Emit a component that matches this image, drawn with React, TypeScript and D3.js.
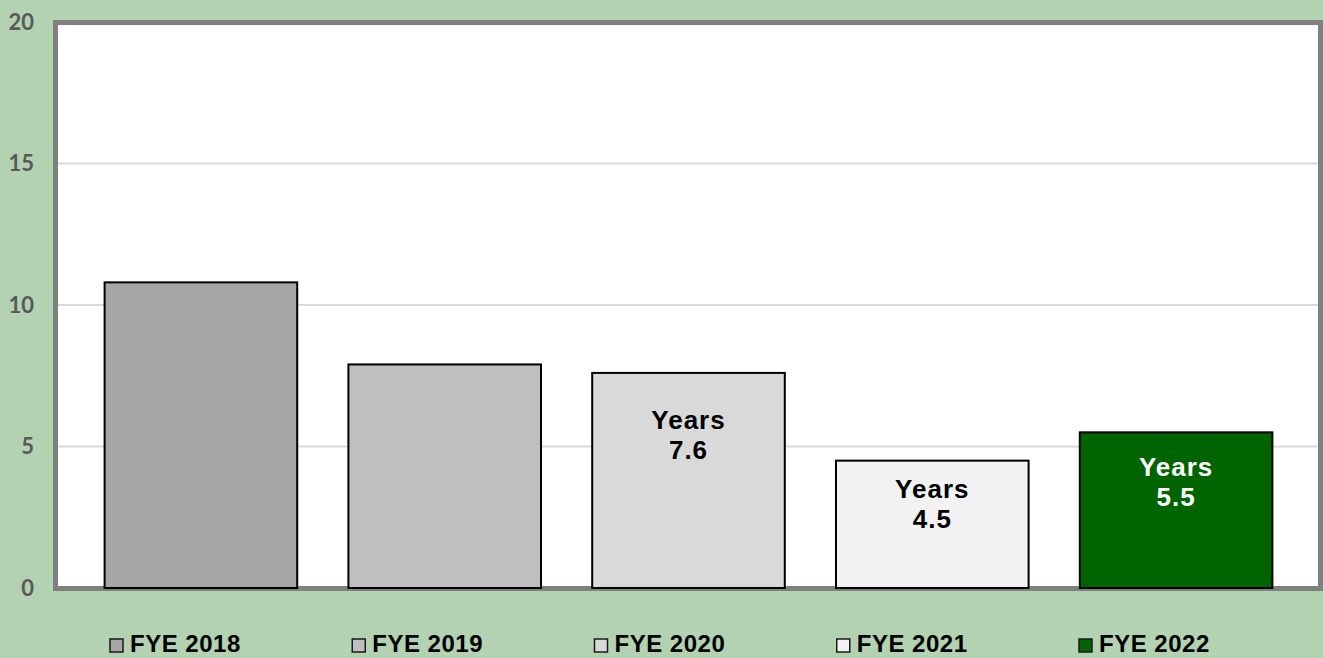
import { useEffect, useRef } from "react";
import * as d3 from "d3";

const categories = ["FYE 2018", "FYE 2019", "FYE 2020", "FYE 2021", "FYE 2022"];
const values = [10.8, 7.9, 7.6, 4.5, 5.5];
const showLabel = [false, false, true, true, true];
const barColors = ["#A5A5A5", "#BFBFBF", "#D9D9D9", "#F2F2F2", "#006400"];
const labelColors = ["#000", "#000", "#000", "#000", "#FFFFFF"];
const yTicks = [0, 5, 10, 15, 20];

// how far each label sits under its bar top (px), set by hand in the source
const labelDrop = [0, 0, 35, 16, 23];

const W = 1323;
const H = 658;

export default function App() {
  const ref = useRef<SVGSVGElement>(null);

  useEffect(() => {
    document.body.style.margin = "0";
    const svg = d3.select(ref.current);
    svg.selectAll("*").remove();

    svg.append("rect").attr("width", W).attr("height", H).attr("fill", "#B2D2B2");

    const plot = { x0: 58, x1: 1318, y0: 25, y1: 586 };
    const y = d3.scaleLinear().domain([0, 20]).range([588, 22]);
    const x = d3
      .scaleBand<string>()
      .domain(categories)
      .range([79, 1298])
      .paddingInner(0.21)
      .paddingOuter(0.105);

    // plot background + frame
    svg
      .append("rect")
      .attr("x", 55.5)
      .attr("y", 22.5)
      .attr("width", 1265)
      .attr("height", 566)
      .attr("fill", "#FFFFFF")
      .attr("stroke", "#808080")
      .attr("stroke-width", 5);

    svg
      .append("g")
      .selectAll("line")
      .data(yTicks.filter((t) => t > 0 && t < 20))
      .join("line")
      .attr("x1", plot.x0)
      .attr("x2", plot.x1)
      .attr("y1", (d) => y(d))
      .attr("y2", (d) => y(d))
      .attr("stroke", "#D9D9D9")
      .attr("stroke-width", 2);

    svg
      .append("g")
      .selectAll("text")
      .data(yTicks)
      .join("text")
      .attr("x", 34)
      .attr("y", (d) => y(d))
      .attr("dy", "0.36em")
      .attr("text-anchor", "end")
      .attr("font-family", "Lato, 'Open Sans', sans-serif")
      .attr("font-weight", 700)
      .attr("font-size", 22)
      .attr("fill", "#595959")
      .text((d) => d);

    const bars = svg
      .append("g")
      .selectAll("g")
      .data(categories)
      .join("g");

    bars
      .append("rect")
      .attr("x", (d) => x(d)!)
      .attr("y", (_, i) => y(values[i]))
      .attr("width", x.bandwidth())
      .attr("height", (_, i) => y(0) - y(values[i]))
      .attr("fill", (_, i) => barColors[i])
      .attr("stroke", "#000")
      .attr("stroke-width", 2);

    bars.each(function (d, i) {
      if (!showLabel[i]) return;
      const cx = x(d)! + x.bandwidth() / 2;
      const top = y(values[i]) + labelDrop[i];
      const t = d3
        .select(this)
        .append("text")
        .attr("text-anchor", "middle")
        .attr("font-family", "'Liberation Sans', Arial, sans-serif")
        .attr("font-weight", 700)
        .attr("font-size", 26)
        .attr("letter-spacing", 1)
        .attr("fill", labelColors[i]);
      t.append("tspan").attr("x", cx).attr("y", top + 21).text("Years");
      t.append("tspan").attr("x", cx).attr("y", top + 51).text(values[i].toFixed(1));
    });

    // legend
    const lx = d3.scalePoint<string>().domain(categories).range([109, 1078]);
    const leg = svg
      .append("g")
      .selectAll("g")
      .data(categories)
      .join("g")
      .attr("transform", (d) => `translate(${lx(d)},0)`);
    leg
      .append("rect")
      .attr("x", 1)
      .attr("y", 639)
      .attr("width", 13)
      .attr("height", 13)
      .attr("fill", (_, i) => barColors[i])
      .attr("stroke", "#1a1a1a")
      .attr("stroke-width", 1.5);
    leg
      .append("text")
      .attr("x", 21)
      .attr("y", 652)
      .attr("font-family", "'Liberation Sans', Arial, sans-serif")
      .attr("font-weight", 700)
      .attr("font-size", 24)
      .attr("letter-spacing", 0.5)
      .attr("fill", "#000")
      .text((d) => d);
  }, []);

  return (
    <div style={{ position: "fixed", left: 0, top: 0, width: W, height: H }}>
      <svg ref={ref} width={W} height={H} style={{ display: "block" }} />
    </div>
  );
}
